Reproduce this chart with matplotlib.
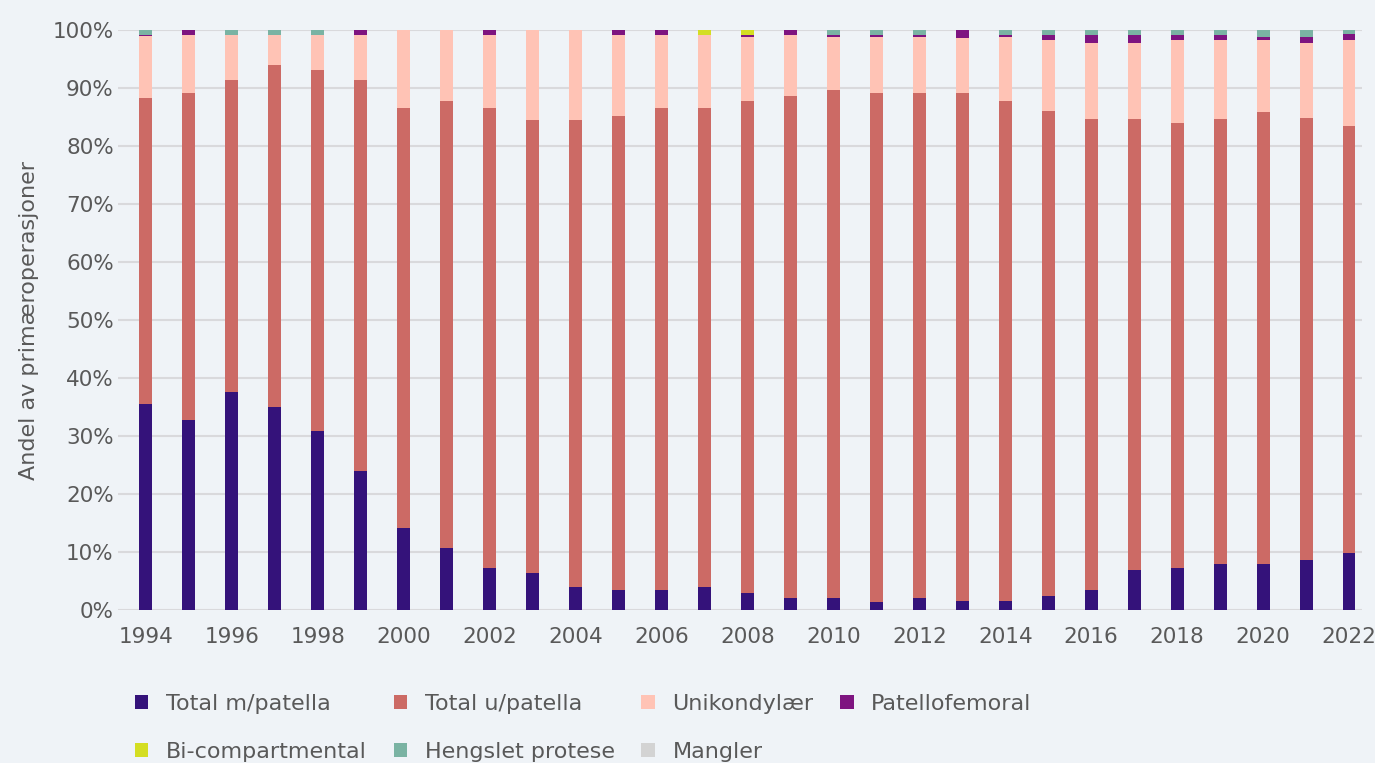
import numpy as np
import matplotlib
matplotlib.use('Agg')
import matplotlib.pyplot as plt
from matplotlib.ticker import PercentFormatter

# ========================
# data (andel i prosent per år)
# ========================
years = list(range(1994, 2023))

total_m_patella = [35.6, 32.8, 37.6, 35.0, 30.8, 24.0, 14.2, 10.7, 7.3, 6.4,
                   4.0, 3.5, 3.5, 4.0, 3.0, 2.1, 2.0, 1.4, 2.0, 1.6,
                   1.6, 2.5, 3.5, 6.9, 7.3, 7.9, 7.9, 8.7, 9.9]
total_u_patella = [52.6, 56.4, 53.8, 59.0, 62.3, 67.4, 72.4, 77.1, 79.3, 78.0,
                   80.4, 81.7, 83.1, 82.6, 84.8, 86.6, 87.7, 87.8, 87.2, 87.6,
                   86.2, 83.6, 81.2, 77.8, 76.6, 76.8, 77.9, 76.2, 73.5]
unikondylaer = [10.7, 9.9, 7.7, 5.1, 6.0, 7.7, 13.4, 12.2, 12.5, 15.6,
                15.6, 13.9, 12.5, 12.5, 11.0, 10.4, 9.1, 9.6, 9.6, 9.4,
                11.0, 12.2, 13.1, 13.1, 14.4, 13.6, 12.5, 12.9, 14.9]
patellofemoral = [0.2, 0.9, 0.0, 0.0, 0.0, 0.9, 0.0, 0.0, 0.9, 0.0,
                  0.0, 0.9, 0.9, 0.0, 0.3, 0.9, 0.3, 0.3, 0.3, 1.4,
                  0.3, 0.8, 1.3, 1.3, 0.8, 0.8, 0.5, 1.0, 1.0]
bi_compartmental = [0.0, 0.0, 0.0, 0.0, 0.0, 0.0, 0.0, 0.0, 0.0, 0.0,
                    0.0, 0.0, 0.0, 0.9, 0.9, 0.0, 0.0, 0.0, 0.0, 0.0,
                    0.0, 0.0, 0.0, 0.0, 0.0, 0.0, 0.0, 0.0, 0.0]
hengslet_protese = [0.9, 0.0, 0.9, 0.9, 0.9, 0.0, 0.0, 0.0, 0.0, 0.0,
                    0.0, 0.0, 0.0, 0.0, 0.0, 0.0, 0.9, 0.9, 0.9, 0.0,
                    0.9, 0.9, 0.9, 0.9, 0.9, 0.9, 1.2, 1.2, 0.7]
mangler = [0.0] * len(years)

series = [
    ('Total m/patella', total_m_patella, '#34127a'),
    ('Total u/patella', total_u_patella, '#cc6a65'),
    ('Unikondylær', unikondylaer, '#ffc3b5'),
    ('Patellofemoral', patellofemoral, '#7e1480'),
    ('Bi-compartmental', bi_compartmental, '#d4de22'),
    ('Hengslet protese', hengslet_protese, '#7ab3a3'),
    ('Mangler', mangler, '#d3d3d3'),
]

# ========================
# figur
# ========================
BG = '#eff3f7'
TXT = '#595959'
plt.rcParams['font.family'] = ['DejaVu Sans']

fig = plt.figure(figsize=(13.75, 7.63), dpi=100, facecolor=BG)
ax = fig.add_axes([0.0858, 0.2005, 0.9047, 0.7602], facecolor=BG)

x = np.arange(len(years))
bottom = np.zeros(len(years))
for label, vals, color in series:
    vals = np.array(vals)
    ax.bar(x, vals, width=0.3, bottom=bottom, color=color, label=label, zorder=3)
    bottom += vals

ax.set_ylim(0, 100)
ax.set_xlim(-0.65, len(years) - 0.7)
ax.set_yticks(np.arange(0, 101, 10))
ax.yaxis.set_major_formatter(PercentFormatter(decimals=0))
ax.set_xticks(x[::2])
ax.set_xticklabels([str(y) for y in years[::2]])
ax.grid(axis='y', color='#d9d9dc', linewidth=1.5, zorder=0)
for s in ax.spines.values():
    s.set_visible(False)
ax.tick_params(length=0, labelsize=15.5, colors=TXT)
ax.tick_params(axis='y', pad=3)
ax.tick_params(axis='x', pad=12)
ax.set_ylabel('Andel av primæroperasjoner', fontsize=16, color=TXT, labelpad=10)

# legenden fylles kolonnevis, så rekkefølgen stokkes for radvis visning
handles, labels = ax.get_legend_handles_labels()
order = [0, 4, 1, 5, 2, 6, 3]
leg = fig.legend([handles[i] for i in order], [labels[i] for i in order],
                 loc='upper left', bbox_to_anchor=(0.090, 0.105), ncol=4,
                 frameon=False, fontsize=16, labelcolor=TXT,
                 handlelength=0.6, handleheight=0.6, handletextpad=0.8,
                 columnspacing=1.2, labelspacing=1.25, borderpad=0)

fig.savefig('out.png', dpi=100, facecolor=BG)
